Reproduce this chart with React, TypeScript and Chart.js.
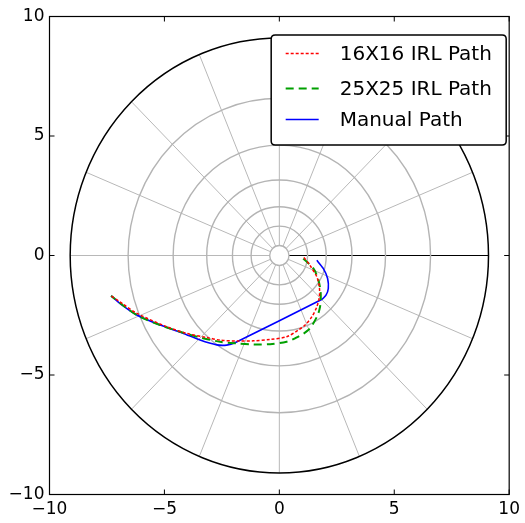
import React, { useEffect, useRef } from "react";
import { Chart, registerables } from "chart.js";

Chart.register(...registerables);

// ---- data ----
const tickValues = [-10, -5, 0, 5, 10];
const tickLabels = ["\u221210", "\u22125", "0", "5", "10"];

const seriesNames = ["16X16 IRL Path", "25X25 IRL Path", "Manual Path"];

const red16X = [1.07, 1.33, 1.63, 1.74, 1.74, 1.63, 1.41, 1.12, 0.83, 0.32, -0.4, -1.13, -1.85, -2.58, -3.16, -4.03, -4.9, -6.2, -6.8, -7.32];
const red16Y = [-0.08, -0.41, -0.89, -1.31, -1.73, -2.15, -2.57, -2.91, -3.12, -3.4, -3.51, -3.57, -3.58, -3.54, -3.43, -3.26, -2.98, -2.42, -2.03, -1.69];

const green25X = [1.04, 1.48, 1.7, 1.8, 1.77, 1.63, 1.26, 0.61, 0.32, -0.4, -1.13, -1.85, -2.58, -3.45, -4.32, -5.19, -6.06, -6.63, -7.32];
const green25Y = [-0.13, -0.54, -1.03, -1.59, -2.15, -2.57, -3.12, -3.5, -3.61, -3.71, -3.72, -3.68, -3.61, -3.43, -3.19, -2.91, -2.57, -2.21, -1.69];

const manualX = [1.63, 1.91, 2.1, 2.13, 2.03, 1.84, -1.93, -2.29, -2.72, -3.45, -4.17, -5.19, -6.2, -6.93, -7.32];
const manualY = [-0.2, -0.54, -0.96, -1.38, -1.66, -1.84, -3.65, -3.75, -3.74, -3.54, -3.26, -2.91, -2.49, -2.01, -1.69];

// polar decoration
const gridRadii = [0.42, 1.23, 2.04, 3.16, 4.62, 6.58];
const outerRadius = 9.1;
const holeRadius = 0.42;
const spokeAngles = [0, 22.5, 45, 67.5, 90, 112.5, 135, 157.5, 180, 202.5, 225, 247.5, 270, 292.5, 315, 337.5];

const FONT = "'DejaVu Sans', sans-serif";

const toPts = (xs: number[], ys: number[]) => xs.map((x, i) => ({ x, y: ys[i] }));

const styles = [
  { color: "#ff0000", dash: [3, 2], width: 1.5, tension: 0.3 },
  { color: "#00a000", dash: [8, 5], width: 2, tension: 0.3 },
  { color: "#0000ff", dash: [] as number[], width: 1.6, tension: 0.15 },
];

const polarPlugin = {
  id: "polarGrid",
  beforeDatasetsDraw(chart: any) {
    const { ctx, chartArea } = chart;
    const xs = chart.scales.x;
    const ys = chart.scales.y;
    const cx = xs.getPixelForValue(0);
    const cy = ys.getPixelForValue(0);
    const kx = xs.getPixelForValue(1) - cx;
    const ky = cy - ys.getPixelForValue(1);
    ctx.save();
    ctx.beginPath();
    ctx.rect(chartArea.left, chartArea.top, chartArea.right - chartArea.left, chartArea.bottom - chartArea.top);
    ctx.clip();
    // spokes
    spokeAngles.forEach((a) => {
      const t = (a * Math.PI) / 180;
      ctx.beginPath();
      ctx.moveTo(cx + kx * holeRadius * Math.cos(t), cy - ky * holeRadius * Math.sin(t));
      ctx.lineTo(cx + kx * outerRadius * Math.cos(t), cy - ky * outerRadius * Math.sin(t));
      ctx.strokeStyle = a === 0 ? "#000000" : "#b8b8b8";
      ctx.lineWidth = 1;
      ctx.stroke();
    });
    gridRadii.forEach((r) => {
      ctx.beginPath();
      ctx.ellipse(cx, cy, kx * r, ky * r, 0, 0, Math.PI * 2);
      ctx.strokeStyle = "#b4b4b4";
      ctx.lineWidth = 1.4;
      ctx.stroke();
    });
    ctx.beginPath();
    ctx.ellipse(cx, cy, kx * outerRadius, ky * outerRadius, 0, 0, Math.PI * 2);
    ctx.strokeStyle = "#000000";
    ctx.lineWidth = 1.5;
    ctx.stroke();
    ctx.restore();
  },
  afterDraw(chart: any) {
    const { ctx, chartArea } = chart;
    const xs = chart.scales.x;
    const ys = chart.scales.y;
    const { left, right, top, bottom } = chartArea;
    ctx.save();
    ctx.strokeStyle = "#000";
    ctx.lineWidth = 1.2;
    ctx.strokeRect(left, top, right - left, bottom - top);
    ctx.lineWidth = 1;
    const tl = 5;
    tickValues.forEach((v) => {
      const px = xs.getPixelForValue(v);
      const py = ys.getPixelForValue(v);
      ctx.beginPath();
      ctx.moveTo(px, bottom);
      ctx.lineTo(px, bottom - tl);
      ctx.moveTo(px, top);
      ctx.lineTo(px, top + tl);
      ctx.moveTo(left, py);
      ctx.lineTo(left + tl, py);
      ctx.moveTo(right, py);
      ctx.lineTo(right - tl, py);
      ctx.stroke();
    });
    // legend
    const bw = 235;
    const bh = 110;
    const bx = right - 3 - bw;
    const by = top + 18.5;
    const rad = 4;
    ctx.beginPath();
    ctx.moveTo(bx + rad, by);
    ctx.lineTo(bx + bw - rad, by);
    ctx.quadraticCurveTo(bx + bw, by, bx + bw, by + rad);
    ctx.lineTo(bx + bw, by + bh - rad);
    ctx.quadraticCurveTo(bx + bw, by + bh, bx + bw - rad, by + bh);
    ctx.lineTo(bx + rad, by + bh);
    ctx.quadraticCurveTo(bx, by + bh, bx, by + bh - rad);
    ctx.lineTo(bx, by + rad);
    ctx.quadraticCurveTo(bx, by, bx + rad, by);
    ctx.closePath();
    ctx.fillStyle = "#ffffff";
    ctx.fill();
    ctx.strokeStyle = "#000";
    ctx.lineWidth = 1.5;
    ctx.stroke();
    const rows = [by + 18.5, by + 53.5, by + 84.5];
    ctx.font = `20px ${FONT}`;
    ctx.textBaseline = "middle";
    ctx.textAlign = "left";
    seriesNames.forEach((name, i) => {
      const s = styles[i];
      ctx.beginPath();
      ctx.setLineDash(s.dash);
      ctx.strokeStyle = s.color;
      ctx.lineWidth = s.width;
      ctx.moveTo(bx + 14.5, rows[i]);
      ctx.lineTo(bx + 47.5, rows[i]);
      ctx.stroke();
      ctx.setLineDash([]);
      ctx.fillStyle = "#000";
      ctx.fillText(name, bx + 68.5, rows[i] + 1.5);
    });
    ctx.restore();
  },
};

export default function App() {
  const ref = useRef<HTMLCanvasElement | null>(null);
  useEffect(() => {
    if (!ref.current) return;
    const seriesData = [toPts(red16X, red16Y), toPts(green25X, green25Y), toPts(manualX, manualY)];
    const tickFont = { family: FONT, size: 17 };
    const mkScale = (isX: boolean) => ({
      type: "linear" as const,
      min: -10,
      max: 10,
      afterBuildTicks: (s: any) => {
        s.ticks = tickValues.map((v) => ({ value: v }));
      },
      afterFit: (s: any) => {
        if (isX) s.height = 28.5;
        else s.width = 49.5;
      },
      ticks: {
        callback: (v: any) => {
          const i = tickValues.indexOf(Number(v));
          return i >= 0 ? tickLabels[i] : "";
        },
        font: tickFont,
        color: "#000",
        padding: isX ? 5 : 5,
        maxRotation: 0,
        autoSkip: false,
      },
      grid: { display: false, drawTicks: false },
      border: { display: false },
    });
    const chart = new Chart(ref.current, {
      type: "scatter",
      data: {
        datasets: seriesData.map((d, i) => ({
          label: seriesNames[i],
          data: d,
          showLine: true,
          pointRadius: 0,
          borderColor: styles[i].color,
          borderDash: styles[i].dash,
          borderWidth: styles[i].width,
          tension: styles[i].tension,
          fill: false,
        })),
      },
      options: {
        animation: false,
        responsive: true,
        maintainAspectRatio: false,
        layout: { padding: { top: 16.5, right: 15, left: 0, bottom: 0 } },
        plugins: { legend: { display: false }, tooltip: { enabled: false } },
        scales: { x: mkScale(true), y: mkScale(false) },
      },
      plugins: [polarPlugin],
    });
    return () => chart.destroy();
  }, []);
  return (
    <div style={{ position: "fixed", left: 0, top: 0, width: 525, height: 523, background: "#fff" }}>
      <canvas ref={ref} />
    </div>
  );
}
